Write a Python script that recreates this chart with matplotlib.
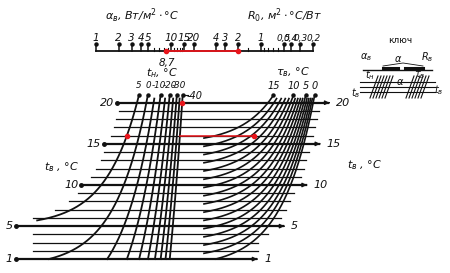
import numpy as np
import matplotlib
matplotlib.use('Agg')
import matplotlib.pyplot as plt

plt.rcParams['font.family'] = ['Liberation Sans Narrow', 'DejaVu Sans Condensed', 'DejaVu Sans']

# scale values of the nomogram
alpha_major = [1, 2, 3, 4, 5, 10, 15, 20]
alpha_minor = [6, 7, 8, 9, 11, 12, 13, 14]
ro_major = [4, 3, 2, 1, 0.5, 0.4, 0.3, 0.2]
ro_labels = ['4', '3', '2', '1', '0,5', '0,4', '0,3', '0,2']
ro_minor = [1.5, 0.9, 0.8, 0.7, 0.6]

t_in = list(range(1, 21))            # tв, °C  (horizontal lines)
t_in_labeled = [1, 5, 10, 15, 20]
t_out = [5, 0, -5, -10, -15, -20, -25, -30, -35, -40]   # tн, °C
t_out_labeled = [5, 0, -10, -20, -30, -40]
tau = list(range(0, 16))             # τв, °C
tau_labeled = [15, 10, 5, 0]

# worked example (red)
ex_alpha = 8.7
ex_ro = 2
ex_tin = 16
ex_tout = -40
red_dot_tin = [20, 16]
red_dot_tout = [-40, 5]

# nomogram scales (pixel units of the sheet)
DEC = 75.0
def xa(a): return 96 + DEC * np.log10(a)
def xr(r): return 261 - DEC * np.log10(r)
def xl(tb, tn): return 48.8 + DEC * np.log10(np.asarray(tb) - tn)
def xt(tb, tv): return 215.6 + DEC * np.log10(np.asarray(tb) - tv)
def yt(tb): return 267.3 - 8.23 * np.asarray(tb)

INK = '#111111'
RED = '#e8151b'
fs = 7.5

fig = plt.figure(figsize=(4.5, 2.73), dpi=100)
ax = fig.add_axes([0, 0, 1, 1])
ax.set_xlim(0, 450)
ax.set_ylim(273, 0)
ax.axis('off')

def txt(x, y, s, **kw):
    kw.setdefault('fontsize', fs)
    kw.setdefault('color', INK)
    kw.setdefault('style', 'italic')
    kw.setdefault('ha', 'center')
    kw.setdefault('va', 'center')
    ax.text(x, y, s, **kw)

# ---- top scale: αв and R0 ----
y0 = 51
ax.plot([xa(1), xr(0.2)], [y0, y0], color=INK, lw=1.3)
for a in alpha_major:
    ax.plot([xa(a), xa(a)], [y0, y0 - 7], color=INK, lw=1.1)
    ax.plot(xa(a), y0 - 7, 'o', ms=2.2, color=INK)
    txt(xa(a), y0 - 13, str(a), fontsize=7.5)
for a in alpha_minor:
    ax.plot([xa(a), xa(a)], [y0, y0 - 3], color=INK, lw=0.8)
for r, lab in zip(ro_major, ro_labels):
    ax.plot([xr(r), xr(r)], [y0, y0 - 7], color=INK, lw=1.1)
    ax.plot(xr(r), y0 - 7, 'o', ms=2.2, color=INK)
    txt(xr(r), y0 - 13, lab, fontsize=7 if r >= 1 else 6.4)
for r in ro_minor:
    ax.plot([xr(r), xr(r)], [y0, y0 - 3], color=INK, lw=0.8)

ax.plot([xa(ex_alpha), xr(ex_ro)], [y0, y0], color=RED, lw=1.3)
ax.plot([xa(ex_alpha), xr(ex_ro)], [y0, y0], 'o', ms=3, color=RED)
txt(xa(ex_alpha), 63, '8,7')

txt(142, 16, r'$\alpha_в$, Вт/м$^2\cdot$°C', fontsize=8)
txt(285, 16, r'R$_0$, м$^2\cdot$°C/Вт', fontsize=8)

# ---- horizontal tв lines ----
for tb in t_in:
    lab = tb in t_in_labeled
    left = xl(tb, 5) - (20 if lab else 16) if tb > 5.9 else (16 if lab else 33)
    left = max(left, 16 if lab else 33)
    right = max(xt(tb, 0) + (15 if lab else 7), 256 if lab else 258)
    lw = 1.6 if lab else 0.9
    ax.plot([left, right], [yt(tb), yt(tb)], color=INK, lw=lw)
    if lab:
        ax.plot(left, yt(tb), 'o', ms=2.5, color=INK)
        ax.annotate('', xy=(right + 4, yt(tb)), xytext=(right - 2, yt(tb)),
                    arrowprops=dict(arrowstyle='-|>', color=INK, lw=1,
                                    mutation_scale=6))
        txt(left - 3, yt(tb), str(tb), ha='right', fontsize=8)
        txt(right + 8, yt(tb), str(tb), ha='left', fontsize=8)

# ---- left block: tн curves ----
for tn in t_out:
    lab = tn in t_out_labeled
    top = 20.9 if lab else 20.5
    tb = np.linspace(max(tn + 0.7, 1), top, 300)
    ax.plot(xl(tb, tn), yt(tb), color=INK, lw=1.3)
    if lab:
        ax.plot(xl(top, tn), yt(top), 'o', ms=2.2, color=INK)
nudge = {5: 0, 0: 0, -10: -1.5, -20: 0, -30: 1.5}
for tn in t_out_labeled[:-1]:
    txt(xl(21, tn) + nudge[tn], 86, str(tn), fontsize=6.3)
ax.plot([xl(21, -40) + 1, xl(21, -40) + 5], [95, 95], color=INK, lw=0.8)
txt(xl(21, -40) + 12, 96, '-40', fontsize=7)
txt(162, 73, r'$t_н$, °C', fontsize=8)

# ---- right block: τв curves ----
for tv in tau:
    lab = tv in tau_labeled
    top = 20.9 if lab else 20.5
    tb = np.linspace(max(tv + 0.7, 1), top, 300)
    ax.plot(xt(tb, tv), yt(tb), color=INK, lw=1.2)
    if lab:
        ax.plot(xt(top, tv), yt(top), 'o', ms=2.2, color=INK)
        txt(xt(21, tv), 86, str(tv), fontsize=7)
txt(293, 72, r'$\tau_в$, °C', fontsize=8)

# ---- worked example below ----
ex_tau = ex_tin - (ex_tin - ex_tout) / (ex_alpha * ex_ro)
ax.plot([xl(ex_tin, ex_tout), xt(ex_tin, ex_tau)], [yt(ex_tin)] * 2, color=RED, lw=1.1)
ax.plot(xt(ex_tin, ex_tau), yt(ex_tin), 'o', ms=3, color=RED)
for tb, tn in zip(red_dot_tin, red_dot_tout):
    ax.plot(xl(tb, tn), yt(tb), 'o', ms=3, color=RED)

txt(62, 167, r'$t_в$ , °C', fontsize=8)
txt(365, 165, r'$t_в$ , °C', fontsize=8)

# ---- key ----
kx = fig.add_axes([350 / 450, 1 - 105 / 273, 95 / 450, 75 / 273])
kx.set_xlim(0, 95)
kx.set_ylim(75, 0)
kx.axis('off')
kx.text(50, 11, 'ключ', fontsize=6.5, ha='center', va='center', color=INK)
kx.plot([13, 82], [40, 40], color=INK, lw=1)
kx.plot([33, 48], [38.5, 38.5], color=INK, lw=2.2)
kx.plot([55, 73], [38.5, 38.5], color=INK, lw=2.2)
kx.plot([33, 53, 73], [36, 33, 36], color=INK, lw=0.6)
kx.text(16, 27, r'$\alpha_в$', fontsize=7, ha='center', va='center', color=INK)
kx.text(77, 27, r'$R_в$', fontsize=7, ha='center', va='center', color=INK)
kx.text(48, 29, r'$\alpha$', fontsize=7, ha='center', va='center', color=INK)
kx.text(20, 45, r'$t_н$', fontsize=7, ha='center', va='center', color=INK)
kx.text(70, 45, r'$\tau_в$', fontsize=7, ha='center', va='center', color=INK)
for yy in [52, 57, 62]:
    kx.plot([10, 85], [yy, yy], color=INK, lw=0.8)
for dx in range(6):
    kx.plot([20 + 3 * dx, 28 + 3 * dx], [68, 46], color=INK, lw=0.8)
    kx.plot([56 + 3 * dx, 64 + 3 * dx], [68, 46], color=INK, lw=0.8)
kx.plot([35, 60], [57, 57], color=INK, lw=0.6, ls='--')
kx.text(50, 52, r'$\alpha$', fontsize=7, ha='center', va='center', color=INK)
kx.text(6, 63, r'$t_в$', fontsize=7, ha='center', va='center', color=INK)
kx.text(89, 60, r'$t_в$', fontsize=7, ha='center', va='center', color=INK)

fig.savefig('out.png', dpi=100)
